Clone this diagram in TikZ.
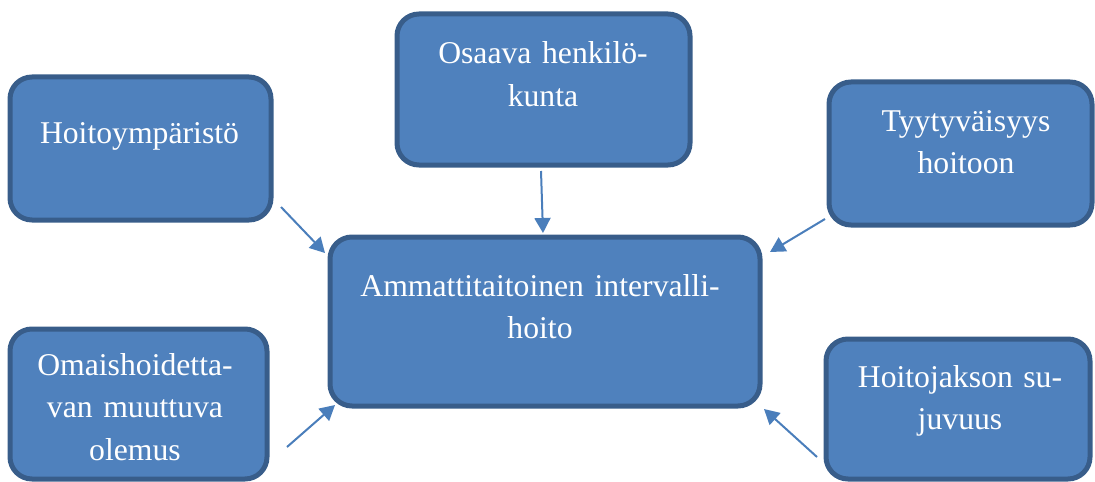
\documentclass[tikz,border=0pt]{standalone}
\usepackage{fontspec}
\setmainfont{Liberation Serif}
\usetikzlibrary{arrows.meta}

\definecolor{laatikkosini}{HTML}{4F81BD}
\definecolor{reunasini}{HTML}{385D8A}
\definecolor{nuolisini}{HTML}{4A7EBB}

\begin{document}
\begin{tikzpicture}[x=0.5pt,y=-0.5pt,
    laatikko/.style={draw=reunasini,fill=laatikkosini,line width=2.5pt,rounded corners=11pt,inner sep=0pt},
    teksti/.style={text=white,anchor=base,align=center,inner sep=0pt,font=\fontsize{15.85pt}{21.25pt}\selectfont},
    nuoli/.style={nuolisini,line width=1pt,-{Triangle[length=7.5pt,width=8pt]}}]
  \clip (0,0) rectangle (1095,481);

  % laatikot
  \node[laatikko,minimum width=130.5pt,minimum height=71.5pt] (ymp) at (140.5,148.5) {};
  \node[laatikko,minimum width=146.5pt,minimum height=75.5pt] (hen) at (543.5,89.5) {};
  \node[laatikko,minimum width=131.5pt,minimum height=71.5pt] (tyy) at (960.5,153.5) {};
  \node[laatikko,minimum width=215pt,minimum height=84.5pt] (int) at (545,321.5) {};
  \node[laatikko,minimum width=128.5pt,minimum height=75pt] (oma) at (138.5,404) {};
  \node[laatikko,minimum width=132pt,minimum height=70pt] (jak) at (958,409) {};

  % tekstit
  \node[teksti,text width=130pt] (ympt) at (139.5,143) {Hoitoympäristö};
  \node[teksti,text width=140pt] (hent) at (543,64) {Osaava henkilö-\\kunta};
  \node[teksti,text width=130pt] (tyyt) at (966,131) {Tyytyväisyys\\hoitoon};
  \node[teksti,text width=210pt] (intt) at (540,296) {Ammattitaitoinen intervalli-\\hoito};
  \node[teksti,text width=125pt] (omat) at (135,375) {Omaishoidetta-\\van muuttuva\\olemus};
  \node[teksti,text width=130pt] (jakt) at (960,387) {Hoitojakson su-\\juvuus};

  % nuolten paat
  \coordinate (y1) at (281,207);  \coordinate (y2) at (325,253);
  \coordinate (h1) at (541,171);  \coordinate (h2) at (543,233);
  \coordinate (t1) at (825,219);  \coordinate (t2) at (770,252);
  \coordinate (o1) at (287,447);  \coordinate (o2) at (335,405);
  \coordinate (j1) at (817,457);  \coordinate (j2) at (764,409);

  \draw[nuoli] (y1) -- (y2);
  \draw[nuoli] (h1) -- (h2);
  \draw[nuoli] (t1) -- (t2);
  \draw[nuoli] (o1) -- (o2);
  \draw[nuoli] (j1) -- (j2);
\end{tikzpicture}
\end{document}
